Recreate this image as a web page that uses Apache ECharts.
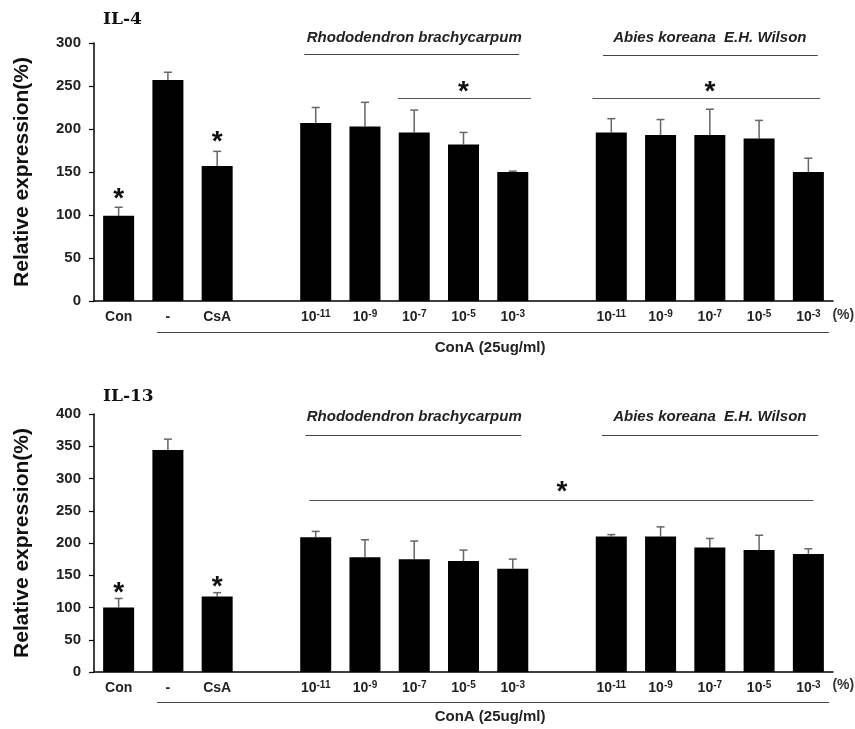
<!DOCTYPE html>
<html><head><meta charset="utf-8">
<script src="https://cdn.jsdelivr.net/npm/echarts@6/dist/echarts.min.js"></script>
<style>html,body{margin:0;padding:0;background:#fff}#c{width:855px;height:729px}</style>
</head><body><div id="c"></div>
<script>
// ---- data ----
const tickLabels = ['Con','-','CsA','','10^-11','10^-9','10^-7','10^-5','10^-3','','10^-11','10^-9','10^-7','10^-5','10^-3'];
const il4Values  = [99,257,157,null,207,203,196,182,150,null,196,193,193,189,150];
const il4Errors  = [10,9,17,null,18,28,26,14,1,null,16,18,30,21,16];
const il13Values = [100,344,117,null,209,178,175,172,160,null,210,210,193,189,183];
const il13Errors = [14,17,6,null,9,27,28,17,15,null,3,15,14,23,8];
const panelTitles = ['IL-4','IL-13'];
const yMax = [300,400];
const yInterval = [50,50];
const yAxisName = 'Relative expression(%)';
const groupNames = ['Rhododendron brachycarpum','Abies koreana  E.H. Wilson'];
const treatmentLabel = 'ConA (25ug/ml)';
const unitLabel = '(%)';
// annotations in data coordinates: [fromIndex, toIndex, value]
const groupLines = [[[3.77,8.13,287],[9.83,14.19,286]], [[3.79,8.17,367],[9.81,14.2,367]]];
const groupTextPos = [[[6,306],[12,306]], [[6,396],[12,396]]];
const sigLines = [[[5.67,8.37,235.7],[9.62,14.24,235.7]], [[3.87,14.1,266.7]]];
const stars = [[[0,118],[2,185],[7,243],[12,243]], [[0,122],[2,132],[9,279]]];
const conALine = [[0.78,14.42,-35.7],[0.78,14.42,-46]];
const conAText = [[7.54,-54.7],[7.54,-69.3]];
const unitPos = [[14.71,-16.3],[14.71,-20]];

const FONT = 'Liberation Sans';
const chart = echarts.init(document.getElementById('c'));
const grids = [
  {left:94, right:22, top:43, height:258},
  {left:94, right:22, top:414, height:258}
];
function xLabelFmt(v){
  if (v.indexOf('^')>=0){ const p=v.split('^'); return '{n|'+p[0]+'}{s|'+p[1]+'}'; }
  return '{n|'+v+'}';
}
const xAxes = grids.map((g,i)=>({
  type:'category', gridIndex:i, data:tickLabels,
  axisLine:{lineStyle:{color:'#000',width:1.5}},
  axisTick:{show:false},
  axisLabel:{interval:0, margin:8, formatter:xLabelFmt,
    rich:{n:{fontFamily:FONT,fontWeight:'bold',fontSize:14,color:'#222',lineHeight:17},
          s:{fontFamily:FONT,fontWeight:'bold',fontSize:10,color:'#222',lineHeight:11,verticalAlign:'top'}}}
}));
const yAxes = grids.map((g,i)=>({
  type:'value', gridIndex:i, min:0, max:yMax[i], interval:yInterval[i],
  name:yAxisName, nameLocation:'middle', nameGap:61,
  nameTextStyle:{fontFamily:FONT,fontWeight:'bold',fontSize:21,color:'#111'},
  axisLine:{show:true,lineStyle:{color:'#000',width:1.5}},
  axisTick:{show:true,length:5,lineStyle:{color:'#000',width:1.2}},
  splitLine:{show:false},
  axisLabel:{fontFamily:FONT,fontWeight:'bold',fontSize:15,color:'#222',margin:13}
}));
const valueSets = [il4Values, il13Values];
const errSets = [il4Errors, il13Errors];
const series = [];
valueSets.forEach((vals,i)=>{
  series.push({type:'bar', xAxisIndex:i, yAxisIndex:i, data:vals, barWidth:31,
    itemStyle:{color:'#000'}, silent:true, animation:false});
  series.push({type:'custom', xAxisIndex:i, yAxisIndex:i, animation:false, silent:true,
    data: vals.map((v,k)=> v==null?[k,null,null]:[k,v,errSets[i][k]]),
    renderItem:function(params, api){
      const v = api.value(1); if (v==null || isNaN(v)) return;
      const e = api.value(2);
      const p0 = api.coord([api.value(0), v]);
      const p1 = api.coord([api.value(0), v+e]);
      const style = {stroke:'#666', lineWidth:1.5};
      return {type:'group', children:[
        {type:'line', shape:{x1:p0[0],y1:p0[1],x2:p1[0],y2:p1[1]}, style:style},
        {type:'line', shape:{x1:p1[0]-4,y1:p1[1],x2:p1[0]+4,y2:p1[1]}, style:style}
      ]};
    },
    encode:{x:0,y:1}
  });
});
chart.setOption({
  animation:false,
  title: panelTitles.map((t,i)=>({text:t, left:98, top: i===0?6:383,
    textStyle:{fontFamily:'DejaVu Serif',fontWeight:'bold',fontSize:17,color:'#111'}})),
  grid:grids, xAxis:xAxes, yAxis:yAxes, series:series
});
function pt(g, xi, yv){
  const a = chart.convertToPixel({gridIndex:g},[0,yv]);
  const b = chart.convertToPixel({gridIndex:g},[1,yv]);
  return [a[0]+(b[0]-a[0])*xi, a[1]];
}
const graphic = [];
function hline(g, seg, color, w){
  const a = pt(g, seg[0], seg[2]), b = pt(g, seg[1], seg[2]);
  graphic.push({type:'line', shape:{x1:a[0],y1:Math.round(a[1])+0.5,x2:b[0],y2:Math.round(a[1])+0.5},
    style:{stroke:color,lineWidth:w}, silent:true});
}
function text(g, pos, s, st){
  const p = pt(g, pos[0], pos[1]);
  graphic.push({type:'text', x:p[0], y:p[1], silent:true,
    style:Object.assign({text:s, align:'center', verticalAlign:'middle', fill:'#111', fontFamily:FONT}, st)});
}
for (let g=0; g<2; g++){
  groupLines[g].forEach(s=>hline(g,s,'#444',1));
  groupTextPos[g].forEach((p,k)=>text(g,p,groupNames[k],{fontStyle:'italic',fontWeight:'bold',fontSize:15,fill:'#222'}));
  sigLines[g].forEach(s=>hline(g,s,'#555',1.2));
  stars[g].forEach(p=>text(g,p,'*',{fontWeight:'bold',fontSize:28,fill:'#111'}));
  hline(g, conALine[g], '#444', 1);
  text(g, conAText[g], treatmentLabel, {fontWeight:'bold',fontSize:15,fill:'#222'});
  text(g, unitPos[g], unitLabel, {fontWeight:'bold',fontSize:14,fill:'#333'});
}
chart.setOption({graphic:graphic});
</script></body></html>
